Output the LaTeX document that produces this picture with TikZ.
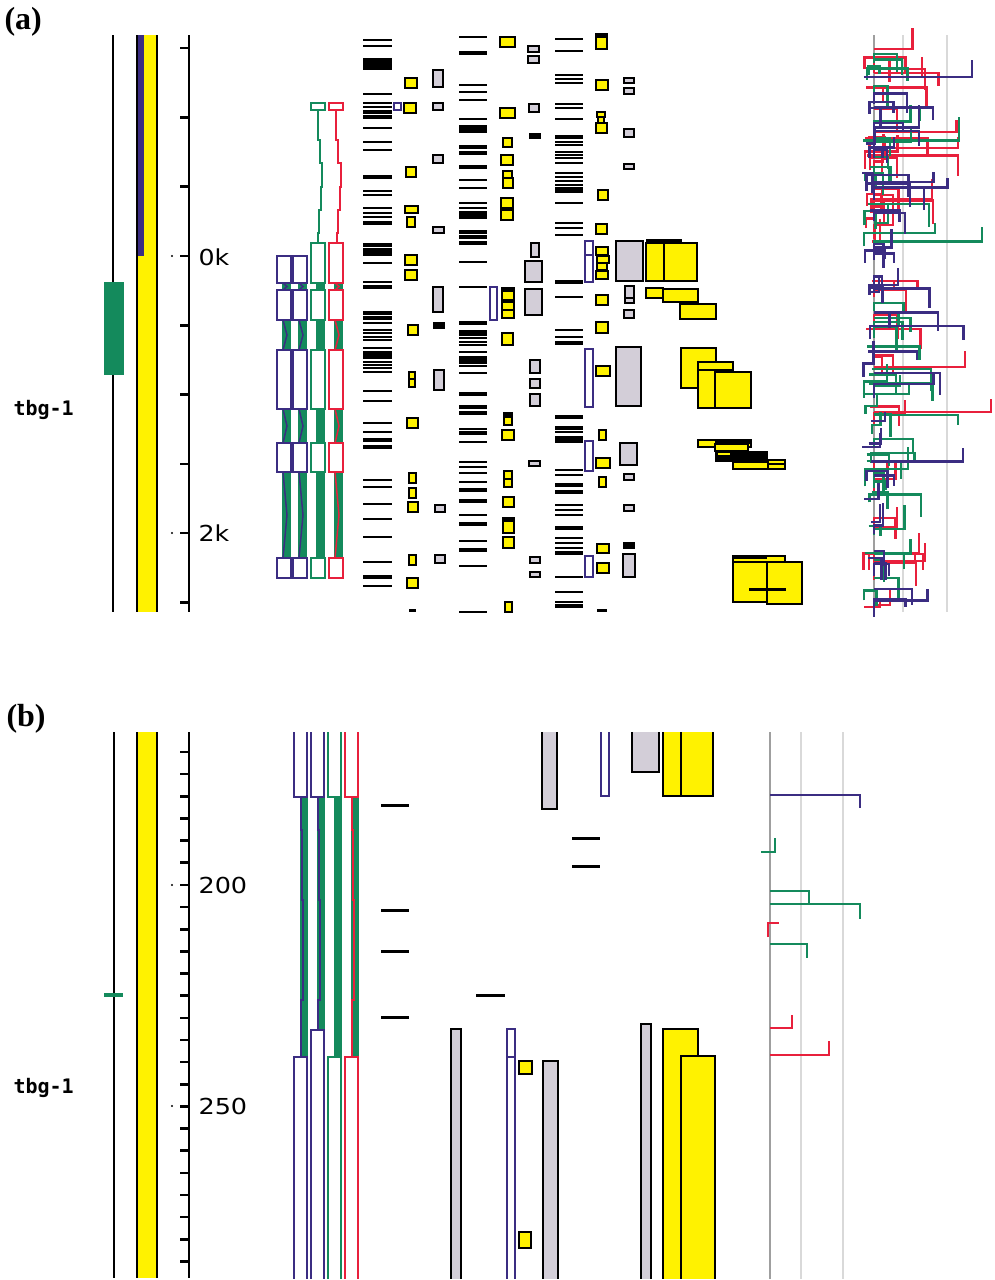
\documentclass[tikz,border=0pt]{standalone}
\usepackage{fontspec}
\usepackage{graphicx}
\newfontfamily\lblfont{Liberation Serif}
\newfontfamily\axfont{DejaVu Sans}
\newfontfamily\genefont{DejaVu Sans Mono}
\definecolor{Y}{HTML}{FFF200}
\definecolor{Gr}{HTML}{148A5C}
\definecolor{P}{HTML}{3B2D82}
\definecolor{R}{HTML}{E8203C}
\definecolor{Gy}{HTML}{D3CED8}
\begin{document}
\begin{tikzpicture}[x=1pt,y=-1pt,
  yb/.style={fill=Y,draw=black,line width=2.8pt},
  gb/.style={fill=Gy,draw=black,line width=2.8pt},
  pb/.style={fill=white,draw=P,line width=2pt},
  axline/.style={line width=2.6pt},
  panellbl/.style={anchor=base west,font=\lblfont\bfseries\fontsize{32}{32}\selectfont},
  axlbl/.style={anchor=west,font=\axfont\fontsize{22}{22}\selectfont},
  genelbl/.style={anchor=west,font=\genefont\bfseries\fontsize{20}{20}\selectfont},
  brk/.style={line width=2.4pt}]
\useasboundingbox (0,0) rectangle (994,1280);
\fill[white] (0,0) rectangle (994,1280);

%================ PANEL (a) ================
\node[panellbl] (la) at (1,29) {(a)};
\node[genelbl] (ga) at (10,410) {tbg-1};
% gene track
\draw[line width=2pt] (113,35) -- (113,612);
\fill[Gr] (104,282) rectangle (124,375);
% yellow bar
\fill[Y] (137,35) rectangle (157,612);
\fill[P] (137,35) rectangle (144,256);
\draw[axline] (137,35) -- (137,612) (157,35) -- (157,612);
% scale
\draw[axline] (189,35) -- (189,612);
\foreach \i in {0,...,8} \draw[axline] (180,{48+69.3*\i}) -- (189,{48+69.3*\i});
\fill (172,256) circle (1.2); \fill (172,533) circle (1.2);
\node[axlbl] (k0) at (195,257) {\scalebox{1.15}[1]{0k}};
\node[axlbl] (k2) at (195,533) {\scalebox{1.15}[1]{2k}};

% gene models
\foreach \L/\C in {277/P,293/P,311/Gr,329/R} {
  \foreach \a/\b in {283/290,320/350,409/443,472/558} {
    \fill[Gr] (\L+5,\a) rectangle (\L+14,\b);
    \draw[\C,line width=1.5pt] (\L+6,\a) -- (\L+10,{(\a+\b)/2}) -- (\L+6,\b);
  }
  \foreach \a/\b in {290/320,350/409,443/472,558/578}
    \draw[pb,draw=\C] (\L,\a) rectangle (\L+14,\b);
}
\foreach \L in {277,293} \draw[pb] (\L,256) rectangle (\L+14,283);
\draw[pb,draw=Gr] (311,243) rectangle (325,283);
\draw[pb,draw=R] (329,243) rectangle (343,283);
\draw[pb,draw=Gr] (311,103) rectangle (325,110);
\draw[pb,draw=R] (329,103) rectangle (343,110);
\draw[Gr,line width=1.7pt] (318,110) -- (318,140) -- (320,140) -- (320,163) -- (322,163) -- (322,187) -- (321,187) -- (321,210) -- (319,210) -- (319,233) -- (318,233) -- (318,243);
\draw[R,line width=1.7pt] (336,110) -- (336,140) -- (338,140) -- (338,163) -- (341,163) -- (341,187) -- (340,187) -- (340,210) -- (338,210) -- (338,233) -- (337,233) -- (337,243);

% black bar columns
\foreach \y/\w in {40/2,46/2,60/3,64/3,68/3,94/2,103/2,107/2,112/3,117/3,128/2,142/2,150/2,177/3.5,191/2,195/2,208/2,213/2,217/2,223/4,245/3,250/3,254/3,263/2,282/2,287/3,313/3,318/3,323/2,330/2,333/2,337/2,340/2,348/2,353/3,357/3,362/2,365/2,368/2,372/2,391/2,401/2,423/2,432/2,440/3.5,447/3.5,480/2,487/2,504/2,519/2,537/2,562/2,577/4,586/2}
  \draw[line width=\w*1pt+0.5pt] (363,\y) -- (392,\y);
\foreach \y/\w in {37/2,53/3.5,85/2,92/2,100/2,119/2,127/4,131/4,147/3,153/3,167/4,180/2,188/2,203/2,208/2,213/3,217/3,232/4,237/4,243/4,262/2,287/2,323/3,332/3,335/2,338/2,342/2,345/2,352/2,358/3,362/3,366/2,373/2,394/3,407/3,413/3,429/2,433/3,442/2,462/2,467/2,473/2,482/2,490/3,501/3,515/2,524/3,541/2,550/3,566/2,612/2}
  \draw[line width=\w*1pt+0.5pt] (459,\y) -- (487,\y);
\foreach \y/\w in {39/2,51/2,75/2,79/2,83/2,104/2,108/2,119/2,137/3,142/2,145/2,152/2,155/2,158/2,163/2,173/2,177/2,181/2,185/2,190/6,203/2,223/2,228/2,235/2,282/3,297/2,330/2,337/2,343/3,417/3,428/3,432/2,438/3,441/3,470/2,475/2,485/3,492/3,505/2,510/2,515/2,528/3,538/2,543/2,548/2,553/3,577/2,592/2,602/2,606/3}
  \draw[line width=\w*1pt+0.5pt] (555,\y) -- (583,\y);
\draw[line width=3pt] (409,610) -- (416,610) (597,610) -- (607,610);

% yellow small boxes
\foreach \a/\b/\c/\d in {405/78/417/88,404/103/416/113,406/167/416/177,405/206/418/213,407/217/415/227,405/255/417/265,405/270/417/280,408/325/418/335,409/372/415/379,409/379/415/387,407/418/418/428,409/473/416/483,409/488/416/498,408/502/418/512,409/555/416/565,407/578/418/588,
  500/37/515/47,500/108/515/118,503/138/512/147,501/155/513/165,503/171/512/178,503/178/513/188,501/198/513/208,501/210/513/220,502/288/514/300,502/302/514/310,502/310/514/318,502/333/513/345,504/413/512/425,502/430/514/440,504/471/512/479,504/479/512/487,503/497/514/507,503/518/514/533,503/537/514/548,505/602/512/612,
  596/34/607/49,596/80/608/90,597/112/605/117,598/117/604/123,596/123/607/133,598/190/608/200,596/224/607/234,596/247/608/255,597/256/609/263,597/263/607/270,596/271/608/279,596/295/608/305,596/322/608/333,596/366/610/376,599/430/606/440,596/458/610/468,599/477/606/487,597/544/609/553,597/563/609/573}
  \draw[yb] (\a,\b) rectangle (\c,\d);
\fill (502,288) rectangle (514,292);
\fill (504,413) rectangle (512,418);
\fill (503,518) rectangle (514,522);
\fill (596,34) rectangle (607,38);
% grey boxes
\foreach \a/\b/\c/\d in {433/70/443/87,433/103/443/110,433/155/443/163,433/227/444/233,433/287/443/312,434/370/444/390,435/505/445/512,435/555/445/563,
  528/46/539/52,528/56/539/63,529/104/539/112,531/243/539/257,525/261/542/282,525/289/542/315,530/360/540/373,530/379/540/388,530/394/540/406,529/461/540/466,530/557/540/563,530/572/540/577,
  624/78/634/83,624/88/634/94,624/129/634/137,624/164/634/169,616/241/643/281,625/286/634/303,624/310/634/318,616/347/641/406,620/443/637/465,624/474/634/480,624/505/634/511,623/554/635/577}
  \draw[gb] (\a,\b) rectangle (\c,\d);
\fill (433,322) rectangle (445,329);
\fill (529,133) rectangle (541,139);
\fill (623,542) rectangle (635,549);
\draw[line width=2.4pt] (625,298) -- (634,298);
% purple outlines
\draw[pb] (394,103) rectangle (401,110);
\draw[pb] (490,287) rectangle (497,320);
\draw[pb] (585,241) rectangle (593,282); \draw[P,line width=2pt] (585,255) -- (593,255);
\draw[pb] (585,349) rectangle (593,407);
\draw[pb] (585,441) rectangle (593,471);
\draw[pb] (585,556) rectangle (593,577);

% big yellow blocks
\draw[yb] (646,243) rectangle (664,281);
\draw[yb] (664,243) rectangle (697,281);
\fill (646,239) rectangle (682,244);
\draw[yb] (646,288) rectangle (663,298);
\draw[yb] (663,289) rectangle (698,302);
\draw[yb] (680,304) rectangle (716,319);
\draw[yb] (681,348) rectangle (716,388);
\draw[yb] (698,362) rectangle (733,370);
\draw[yb] (698,370) rectangle (715,408);
\draw[yb] (715,372) rectangle (751,408);
\draw[yb] (698,440) rectangle (751,447);
\fill (715,440) rectangle (751,444);
\draw[yb] (715,444) rectangle (748,451);
\fill (715,451) rectangle (768,462);
\fill[Y] (718,453) rectangle (730,455);
\draw[yb] (733,462) rectangle (768,469);
\draw[yb] (768,460) rectangle (785,464);
\draw[yb] (768,464) rectangle (785,469);
\draw[yb] (733,556) rectangle (785,562);
\fill (733,556) rectangle (767,559);
\draw[yb] (733,562) rectangle (767,602);
\draw[yb] (767,562) rectangle (802,604);
\fill (749,588) rectangle (786,591);

% alignment plot (a)
\draw[gray!75,line width=1.4pt] (874,35) -- (874,612);
\draw[gray!30,line width=1.1pt] (903,35) -- (903,612) (947,35) -- (947,612);
\pgfmathsetseed{4242}
\foreach \cc in {R,Gr,P} {
  \foreach \i in {1,...,52} {
    \pgfmathsetmacro{\yy}{40+568*rnd}
    \pgfmathsetmacro{\xa}{rnd<0.45 ? 862+10*rnd : 874}
    \pgfmathsetmacro{\xb}{min(\xa+8+115*rnd*rnd,991)}
    \pgfmathsetmacro{\hh}{(rnd<0.65 ? 1 : -1)*(8+16*rnd)}
    \pgfmathsetmacro{\ha}{rnd<0.45 ? 6+12*rnd : 0}
    \draw[brk,\cc] (\xa,\yy+\ha) -- (\xa,\yy) -- (\xb,\yy) -- (\xb,\yy+\hh);
  }
}

%================ PANEL (b) ================
\node[panellbl] (lb) at (3,726) {(b)};
\node[genelbl] (gb1) at (10,1088) {tbg-1};
\draw[line width=2pt] (114,732) -- (114,1278);
\draw[Gr,line width=3.8pt] (104,995) -- (123,995);
\fill[Y] (137,732) rectangle (157,1278);
\draw[axline] (137,732) -- (137,1278) (157,732) -- (157,1278);
\draw[axline] (189,732) -- (189,1278);
\foreach \i in {0,...,23} \draw[axline] (180,{752+22.15*\i}) -- (189,{752+22.15*\i});
\fill (172,885) circle (1.2); \fill (172,1106) circle (1.2);
\node[axlbl] (t200) at (195,885) {\scalebox{1.16}[1]{200}};
\node[axlbl] (t250) at (195,1106) {\scalebox{1.16}[1]{250}};

\begin{scope}
\clip (0,732) rectangle (994,1278);
\foreach \L/\C in {294/P,311/P,328/Gr,345/R} {
  \fill[Gr] (\L+6,797) rectangle (\L+14,1057);
  \draw[\C,line width=1.6pt] (\L+7,797) -- (\L+7,830) -- (\L+8,830) -- (\L+8,900) -- (\L+9,900) -- (\L+9,1000) -- (\L+7,1000) -- (\L+7,1057);
  \draw[pb,draw=\C] (\L,720) rectangle (\L+13,797);
  \draw[pb,draw=\C] (\L,1057) rectangle (\L+13,1290);
}
\draw[pb] (311,1030) rectangle (324,1290);
% bars
\foreach \y in {805,910,951,1017} \draw[line width=3pt] (381,\y) -- (409,\y);
\draw[line width=3pt] (476,995) -- (505,995);
\draw[line width=3pt] (572,838) -- (600,838) (572,866) -- (600,866);
% top blocks
\draw[gb] (542,720) rectangle (557,809);
\draw[pb] (601,720) rectangle (609,796);
\draw[gb] (632,720) rectangle (659,772);
\draw[yb] (663,720) rectangle (681,796);
\draw[yb] (681,720) rectangle (713,796);
% bottom blocks
\draw[gb] (451,1029) rectangle (461,1290);
\draw[pb] (507,1029) rectangle (515,1290);
\draw[P,line width=2pt] (507,1057) -- (515,1057);
\draw[yb] (519,1061) rectangle (532,1074);
\draw[yb] (519,1232) rectangle (531,1248);
\draw[gb] (543,1061) rectangle (558,1290);
\draw[gb] (641,1024) rectangle (651,1290);
\draw[yb] (663,1029) rectangle (698,1290);
\draw[yb] (681,1056) rectangle (715,1290);
% alignment axis
\draw[gray!75,line width=1.4pt] (770,720) -- (770,1290);
\draw[gray!30,line width=1.1pt] (801,720) -- (801,1290) (843,720) -- (843,1290);
\end{scope}
% brackets (b)
\draw[brk,P] (770,795) -- (860,795) -- (860,808);
\draw[brk,Gr] (775,838) -- (775,852) -- (761,852);
\draw[brk,Gr] (770,891) -- (809,891) -- (809,905);
\draw[brk,Gr] (770,904) -- (860,904) -- (860,919);
\draw[brk,R] (768,937) -- (768,923) -- (779,923);
\draw[brk,Gr] (770,944) -- (807,944) -- (807,958);
\draw[brk,R] (770,1028) -- (792,1028) -- (792,1015);
\draw[brk,R] (770,1055) -- (829,1055) -- (829,1041);
\end{tikzpicture}
\end{document}
